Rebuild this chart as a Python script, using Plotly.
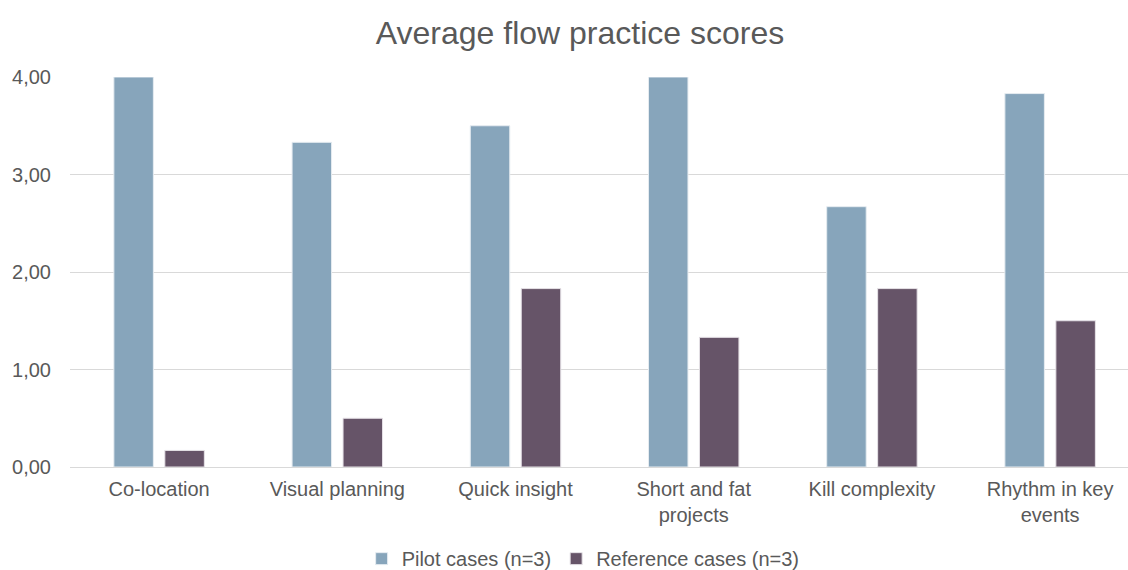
import plotly.graph_objects as go

categories = ["Co-location", "Visual planning", "Quick insight",
              "Short and fat<br>projects", "Kill complexity", "Rhythm in key<br>events"]
pilot_scores = [4.00, 3.33, 3.50, 4.00, 2.67, 3.83]
reference_scores = [0.17, 0.50, 1.83, 1.33, 1.83, 1.50]
y_ticks = [0, 1, 2, 3, 4]

TEXT = "#595959"
FONT = "Liberation Sans, Arial, sans-serif"

fig = go.Figure()
fig.add_trace(go.Bar(
    name="Pilot cases (n=3)", x=categories, y=pilot_scores,
    marker=dict(color="#87A5BB", line=dict(color="#E6ECF1", width=1)),
))
fig.add_trace(go.Bar(
    name="Reference cases (n=3)", x=categories, y=reference_scores,
    marker=dict(color="#665468", line=dict(color="#E6E2E7", width=1)),
))

fig.update_layout(
    width=1128, height=570,
    margin=dict(l=70, r=0, t=77, b=103, autoexpand=False),
    paper_bgcolor="white", plot_bgcolor="white",
    separators=",.",
    font=dict(family=FONT, size=20, color=TEXT),
    title=dict(text="Average flow practice scores", x=580 / 1128, xanchor="center",
               y=1 - 33 / 570, yanchor="middle",
               font=dict(family=FONT, size=32, color=TEXT)),
    barmode="group", bargap=0.428, bargroupgap=0.225,
    showlegend=True,
    legend=dict(orientation="h", x=0.485, xanchor="center", y=-0.185, yanchor="top",
                font=dict(family=FONT, size=20, color=TEXT),
                itemwidth=30, traceorder="normal"),
    xaxis=dict(type="category", range=[-0.5, 5.437], showgrid=False,
               showline=False, ticks="", ticklabelstandoff=8,
               tickfont=dict(size=20, color=TEXT)),
    yaxis=dict(range=[0, 4], tickvals=y_ticks, tickformat=".2f",
               showgrid=True, gridcolor="#D9D9D9", gridwidth=1,
               zeroline=True, zerolinecolor="#D9D9D9", zerolinewidth=1,
               showline=False, ticks="", ticklabelstandoff=18,
               tickfont=dict(size=20, color=TEXT)),
)

fig.write_html("out.html")
